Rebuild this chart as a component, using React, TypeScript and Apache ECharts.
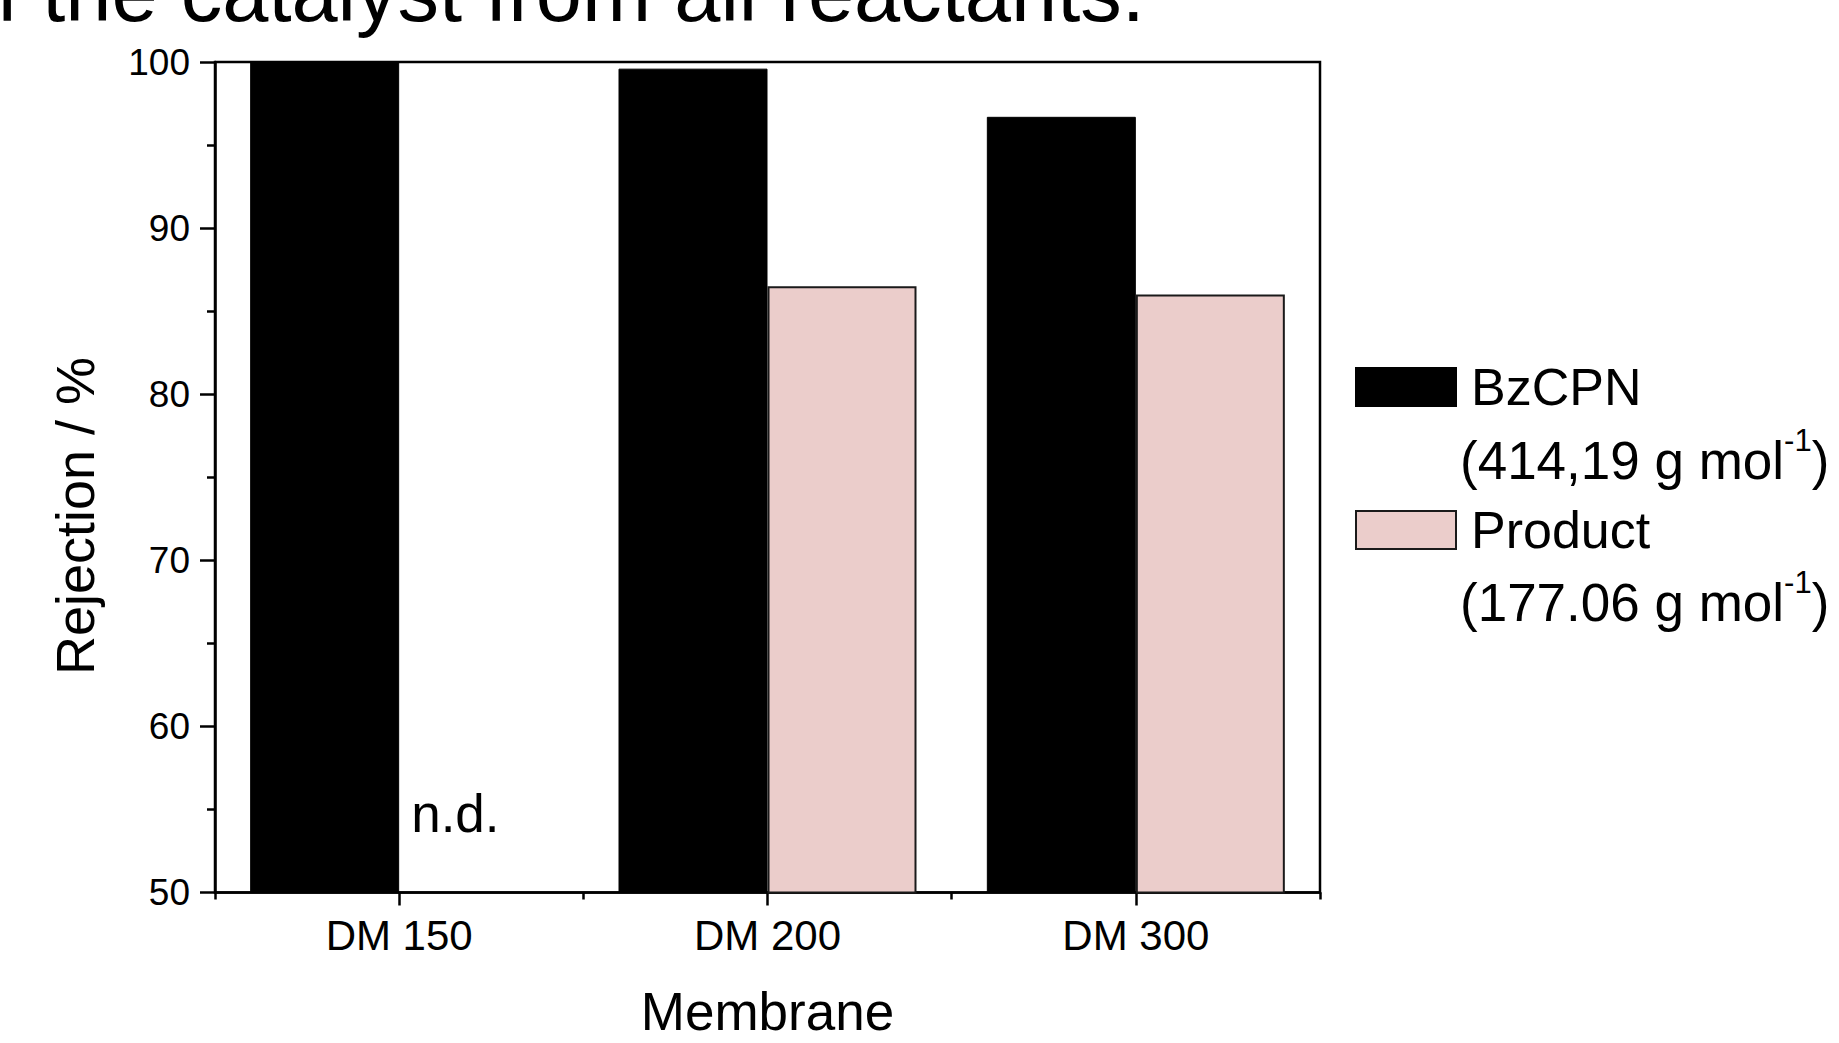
import React, { useEffect, useRef } from "react";
import * as echarts from "echarts";

const categories = ["DM 150", "DM 200", "DM 300"];
const bzcpnValues = [100, 99.6, 96.7];
const productValues: (number | null)[] = [null, 86.5, 86.0];
const yTicks = [50, 60, 70, 80, 90, 100];
const seriesNames = ["BzCPN", "Product"];
const molarMassLabels = ["(414,19 g mol", "(177.06 g mol"];
const superscript = "-1";
const notDetermined = "n.d.";
const headerText = "of the catalyst from all reactants.";
const yTitle = "Rejection / %";
const xTitle = "Membrane";

const FONT = "'Liberation Sans', Arial, Helvetica, sans-serif";
const BLACK = "#000";
const PINK = "#EBCDCB";

export default function App() {
  const ref = useRef<HTMLDivElement>(null);

  useEffect(() => {
    if (!ref.current) return;
    const chart = echarts.init(ref.current, undefined, { renderer: "svg" });
    const axisLine = { lineStyle: { color: BLACK, width: 2.5 } };
    const tickLine = { color: BLACK, width: 2.5 };

    chart.setOption({
      animation: false,
      backgroundColor: "#fff",
      textStyle: { fontFamily: FONT, color: BLACK },
      grid: {
        left: 215,
        top: 62,
        width: 1105,
        height: 839,
        show: true,
        borderColor: BLACK,
        borderWidth: 2.5,
        containLabel: false,
      },
      legend: {
        orient: "vertical",
        left: 1355,
        top: 361,
        padding: 0,
        itemWidth: 100,
        itemHeight: 38,
        itemGap: 91,
        icon: "rect",
        data: seriesNames,
        textStyle: {
          fontSize: 52,
          lineHeight: 52,
          color: BLACK,
          fontFamily: FONT,
          padding: [0, 0, 0, 10],
        },
      },
      xAxis: [
        {
          type: "category",
          data: categories,
          position: "bottom",
          axisLine,
          axisTick: { show: true, alignWithLabel: true, length: 13, lineStyle: tickLine },
          axisLabel: { fontSize: 42, color: BLACK, fontFamily: FONT, margin: 22 },
          splitLine: { show: false },
          name: xTitle,
          nameLocation: "middle",
          nameGap: 119,
          nameTextStyle: { fontSize: 53, color: BLACK, fontFamily: FONT, verticalAlign: "middle" },
        },
        {
          type: "category",
          data: categories,
          position: "bottom",
          axisLine: { show: false },
          axisTick: { show: true, length: 7, lineStyle: tickLine },
          axisLabel: { show: false },
          splitLine: { show: false },
        },
      ],
      yAxis: {
        type: "value",
        min: yTicks[0],
        max: yTicks[yTicks.length - 1],
        interval: yTicks[1] - yTicks[0],
        axisLine: { show: true, ...axisLine },
        axisTick: { show: true, length: 15, lineStyle: tickLine },
        minorTick: { show: true, splitNumber: 2, length: 8, lineStyle: tickLine },
        splitLine: { show: false },
        minorSplitLine: { show: false },
        axisLabel: { fontSize: 37, color: BLACK, fontFamily: FONT, margin: 25 },
      },
      series: [
        {
          name: seriesNames[0],
          type: "bar",
          xAxisIndex: 0,
          data: bzcpnValues,
          barWidth: 149,
          barGap: "0%",
          itemStyle: { color: BLACK, borderColor: BLACK, borderWidth: 1 },
        },
        {
          name: seriesNames[1],
          type: "bar",
          xAxisIndex: 0,
          data: productValues.map((v) => (v == null ? "-" : v)),
          barWidth: 149,
          barGap: "0%",
          itemStyle: { color: PINK, borderColor: "#1a1a1a", borderWidth: 2 },
        },
      ],
    });

    const cx = chart.convertToPixel({ xAxisIndex: 0 }, categories[0]) as number;
    const y0 = chart.convertToPixel({ yAxisIndex: 0 }, yTicks[0]) as number;

    const molText = (label: string, y: number) => ({
      type: "text",
      x: 1460,
      y,
      style: {
        text: `{m|${label}}{s|${superscript}}{m|)}`,
        verticalAlign: "middle",
        align: "left",
        rich: {
          m: { fontSize: 53, lineHeight: 70, fontFamily: FONT, fill: BLACK },
          s: { fontSize: 31, lineHeight: 31, fontFamily: FONT, fill: BLACK, verticalAlign: "top" },
        },
      },
    });

    chart.setOption({
      graphic: [
        {
          type: "text",
          x: -50,
          y: -8,
          style: {
            text: headerText,
            fontSize: 83,
            fontFamily: FONT,
            fill: BLACK,
            align: "left",
            verticalAlign: "middle",
          },
        },
        {
          type: "text",
          x: 75,
          y: 516,
          rotation: Math.PI / 2,
          style: {
            text: yTitle,
            fontSize: 54,
            fontFamily: FONT,
            fill: BLACK,
            align: "center",
            verticalAlign: "middle",
          },
        },
        molText(molarMassLabels[0], 460),
        molText(molarMassLabels[1], 602),
        {
          type: "text",
          x: cx + 12,
          y: y0 - 79,
          style: {
            text: notDetermined,
            fontSize: 53,
            fontFamily: FONT,
            fill: BLACK,
            align: "left",
            verticalAlign: "middle",
          },
        },
      ],
    });

    return () => chart.dispose();
  }, []);

  return (
    <div
      ref={ref}
      style={{ position: "absolute", left: 0, top: 0, width: 1839, height: 1043 }}
    />
  );
}
